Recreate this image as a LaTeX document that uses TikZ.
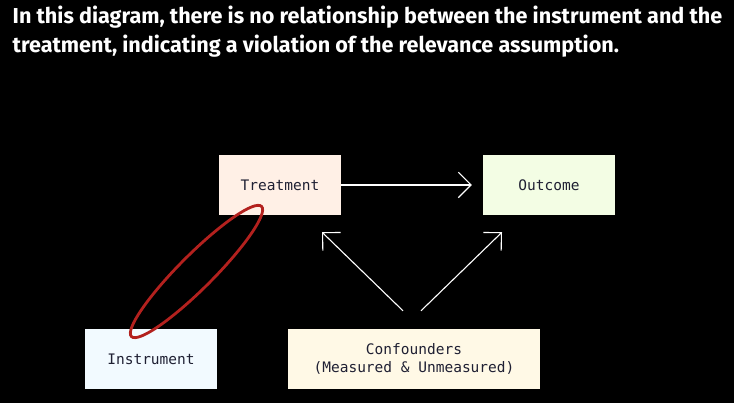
\documentclass[tikz,border=0pt]{standalone}
\usepackage{fontspec}
\setmainfont{Fira Sans}
\setmonofont{DejaVu Sans Mono}
\newfontfamily\titlefont{Fira Sans}
\usetikzlibrary{positioning, calc}
\usetikzlibrary{arrows.meta}
\definecolor{treatfill}{HTML}{FFF0E6}
\definecolor{outfill}{HTML}{F3FDE4}
\definecolor{instfill}{HTML}{F2FAFF}
\definecolor{conffill}{HTML}{FFF9E6}
\definecolor{boxtext}{HTML}{1F2033}
\definecolor{ringred}{HTML}{B3211E}

\begin{document}
\begin{tikzpicture}[x=1pt,y=1pt,draw=white!90]
	\def \toprow{218}
	\def \botrow{44}
	\tikzstyle{box}=[inner sep=0pt,minimum height=60pt,text=boxtext,font=\ttfamily\fontsize{14.5}{18}\selectfont,align=center]
	\tikzstyle{arr}=[line width=1.1pt,-{Straight Barb[length=12.7pt,width=25.4pt]}]
	\tikzstyle{title}=[anchor=base west,inner sep=0pt,text=white,font=\titlefont\bfseries\fontsize{21.6}{29}\selectfont]
	% background
	\fill[black] (0,0) rectangle (734,403);
	\useasboundingbox (0,0) rectangle (734,403);
	% title
	\node[title] (title1) at (12.5,379) {In this diagram, there is no relationship between the instrument and the};
	\node[title] (title2) at (12.5,350) {treatment, indicating a violation of the relevance assumption.};

	% top row
	\node[box,fill=treatfill,minimum width=122pt] (treat) at (280,\toprow) {Treatment};
	\node[box,fill=outfill,minimum width=132pt] (out) at (549,\toprow) {Outcome};

	% bottom row
	\node[box,fill=instfill,minimum width=132pt] (inst) at (151,\botrow) {Instrument};
	\node[box,fill=conffill,minimum width=252pt] (conf) at (414,\botrow) {Confounders\\(Measured \& Unmeasured)};

	% arrows
	\draw[arr,shorten >=11pt] (treat) -- (out);
	\draw[arr] ([xshift=-11pt,yshift=18pt]conf.north) -- ([xshift=42pt,yshift=-17pt]treat.south);
	\draw[arr] ([xshift=7pt,yshift=18pt]conf.north) -- ([xshift=-47pt,yshift=-17pt]out.south);

	% red ring
	\coordinate (ring) at (196.5,131.5);
	\draw[ringred,line width=2.8pt,rotate around={45:(ring)}] (ring) ellipse (92pt and 17pt);
\end{tikzpicture}
\end{document}
